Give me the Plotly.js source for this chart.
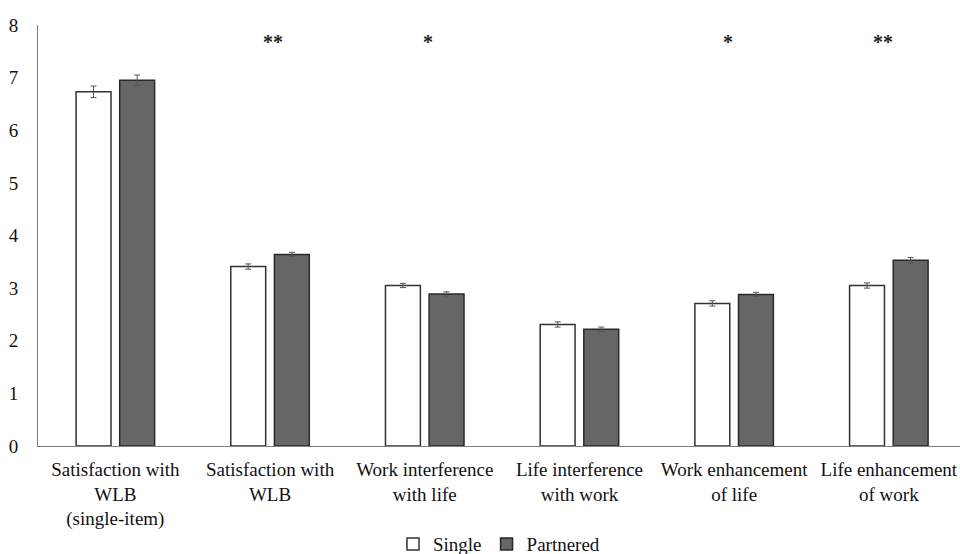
<!DOCTYPE html>
<html>
<head>
<meta charset="utf-8">
<script src="https://cdn.plot.ly/plotly-3.0.1.min.js"></script>
<style>html,body{margin:0;padding:0;background:#fff;}#chart{width:960px;height:554px;}</style>
</head>
<body>
<div id="chart"></div>
<script>
const categories = [
  "Satisfaction with<br>WLB<br>(single-item)",
  "Satisfaction with<br>WLB",
  "Work interference<br>with life",
  "Life interference<br>with work",
  "Work enhancement<br>of life",
  "Life enhancement<br>of work"
];
const singleValues = [6.73, 3.41, 3.05, 2.31, 2.71, 3.05];
const singleErrors = [0.11, 0.05, 0.04, 0.05, 0.05, 0.05];
const partneredValues = [6.95, 3.64, 2.89, 2.22, 2.88, 3.53];
const partneredErrors = [0.10, 0.04, 0.04, 0.04, 0.04, 0.05];
const significance = ["", "**", "*", "", "*", "**"];
const sigY = 7.68;

const font = "Liberation Serif, Times New Roman, serif";

const traces = [
  {
    type: "bar", name: "Single", x: categories, y: singleValues,
    marker: {color: "#ffffff", line: {color: "#333333", width: 1.5}},
    error_y: {type: "data", array: singleErrors, visible: true, color: "#555555", thickness: 1, width: 3}
  },
  {
    type: "bar", name: "Partnered", x: categories, y: partneredValues,
    marker: {color: "#666666", line: {color: "#2a2a2a", width: 1.5}},
    error_y: {type: "data", array: partneredErrors, visible: true, color: "#555555", thickness: 1, width: 3}
  }
];

const shifts = [0, 3, 3, 0, -6, -6];
const annotations = [];
significance.forEach((s, i) => {
  if (s) annotations.push({
    x: categories[i], y: sigY, xref: "x", yref: "y", text: "<b>" + s + "</b>", showarrow: false,
    xshift: shifts[i], font: {family: font, size: 20, color: "#222"}
  });
});

const layout = {
  width: 960, height: 554,
  margin: {l: 38, r: 0, t: 25, b: 108, autoexpand: false},
  paper_bgcolor: "#fff", plot_bgcolor: "#fff",
  barmode: "group", bargap: 0.436, bargroupgap: 0.2,
  showlegend: true,
  legend: {orientation: "h", x: 0.5, xanchor: "center", yref: "container", y: 0.018, yanchor: "middle",
           font: {family: font, size: 19, color: "#111"}, traceorder: "normal"},
  font: {family: font, size: 19, color: "#111"},
  xaxis: {
    type: "category", range: [-0.5, 5.46], showline: true, linecolor: "#808080", linewidth: 1,
    ticks: "", showgrid: false, ticklabelstandoff: 6, automargin: false,
    tickfont: {family: font, size: 19, color: "#111"}, fixedrange: true
  },
  yaxis: {
    range: [0, 8], dtick: 1, showline: true, linecolor: "#808080", linewidth: 1,
    ticks: "", showgrid: false, zeroline: false, ticklabelstandoff: 15, automargin: false,
    tickfont: {family: font, size: 19, color: "#111"}, fixedrange: true
  },
  annotations: annotations
};

Plotly.newPlot("chart", traces, layout, {displayModeBar: false, staticPlot: true});
</script>
</body>
</html>
